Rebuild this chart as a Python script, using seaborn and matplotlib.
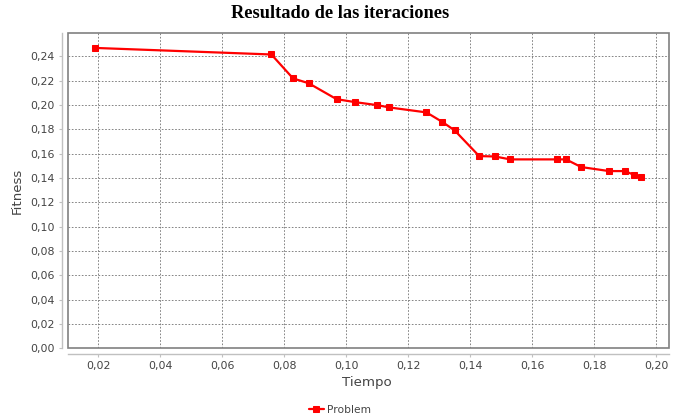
import matplotlib
matplotlib.use("Agg")
import matplotlib.pyplot as plt
import matplotlib.ticker as mticker
from matplotlib.patches import Rectangle
import seaborn as sns
import pandas as pd

# ---- data ----
tiempo = [0.0189, 0.0759, 0.0829, 0.0879, 0.0969, 0.1030, 0.1100, 0.1139,
          0.1259, 0.1310, 0.1350, 0.1429, 0.1480, 0.1529, 0.1679, 0.1709,
          0.1758, 0.1848, 0.1899, 0.1928, 0.1950]
fitness = [0.2468, 0.2414, 0.2217, 0.2178, 0.2047, 0.2022, 0.1998, 0.1979,
           0.1938, 0.1860, 0.1790, 0.1579, 0.1576, 0.1552, 0.1552, 0.1552,
           0.1489, 0.1456, 0.1456, 0.1425, 0.1406]
series_name = "Problem"
x_ticks = [0.02, 0.04, 0.06, 0.08, 0.10, 0.12, 0.14, 0.16, 0.18, 0.20]
y_ticks = [0.00, 0.02, 0.04, 0.06, 0.08, 0.10, 0.12, 0.14, 0.16, 0.18, 0.20, 0.22, 0.24]
title = "Resultado de las iteraciones"
x_label = "Tiempo"
y_label = "Fitness"

df = pd.DataFrame({"Tiempo": tiempo, "Fitness": fitness, "serie": series_name})

sns.set_theme(style="white")
plt.rcParams['font.family'] = ['DejaVu Sans']

fig = plt.figure(figsize=(6.8, 4.2), dpi=100)
ax = fig.add_axes([68 / 680, 1 - 348.3 / 420, (669 - 68) / 680, (348.3 - 33.3) / 420])

sns.lineplot(data=df, x="Tiempo", y="Fitness", hue="serie", palette=["#ff0000"],
             marker="s", markersize=5.0, markeredgecolor="#ff0000", linewidth=1.6,
             sort=False, ax=ax, legend=True)

ax.set_xlim(0.01032, 0.2041)
ax.set_ylim(0.0, 0.2588)
ax.set_xticks(x_ticks)
ax.set_yticks(y_ticks)
ax.xaxis.set_major_formatter(mticker.FuncFormatter(lambda v, p: f"{v:.2f}".replace(".", ",")))
ax.yaxis.set_major_formatter(mticker.FuncFormatter(lambda v, p: f"{v:.2f}".replace(".", ",")))

ax.grid(True, color="#707070", linestyle=(0, (2, 2)), linewidth=0.6)
ax.set_facecolor("white")

# axis lines offset (JFreeChart style)
for s in ["top", "right"]:
    ax.spines[s].set_visible(False)
for s in ["left", "bottom"]:
    ax.spines[s].set_position(("outward", 4))
    ax.spines[s].set_color("#c0c0c0")
    ax.spines[s].set_linewidth(1.0)
ax.add_patch(Rectangle((0, 0), 1, 1, transform=ax.transAxes, fill=False,
                       edgecolor="#808080", linewidth=1.2, clip_on=False, zorder=5))

ax.tick_params(axis="both", which="both", length=2.5, width=0.8, color="#c0c0c0",
               labelsize=7.9, labelcolor="#444444", pad=3, direction="out",
               bottom=True, left=True)

ax.set_xlabel(x_label, fontsize=9.6, color="#444444")
ax.set_ylabel(y_label, fontsize=9.6, color="#444444")
ax.xaxis.set_label_coords((367 - 68) / 601, (348.3 - 376) / 315)
ax.yaxis.set_label_coords((24 - 68) / 601, (348.3 - 191) / 315)

fig.text(340 / 680, 1 - 14 / 420, title, ha="center", va="center",
         fontsize=13.2, fontweight="bold", family="Liberation Serif", color="black")

h, l = ax.get_legend_handles_labels()
ax.get_legend().remove()
fig.legend(h, l, loc="center", bbox_to_anchor=(340 / 680, 1 - 410 / 420),
           frameon=False, fontsize=7.7, handlelength=1.4, handletextpad=0.3,
           labelcolor="#444444")

fig.savefig("out.png", dpi=100, facecolor="white")
